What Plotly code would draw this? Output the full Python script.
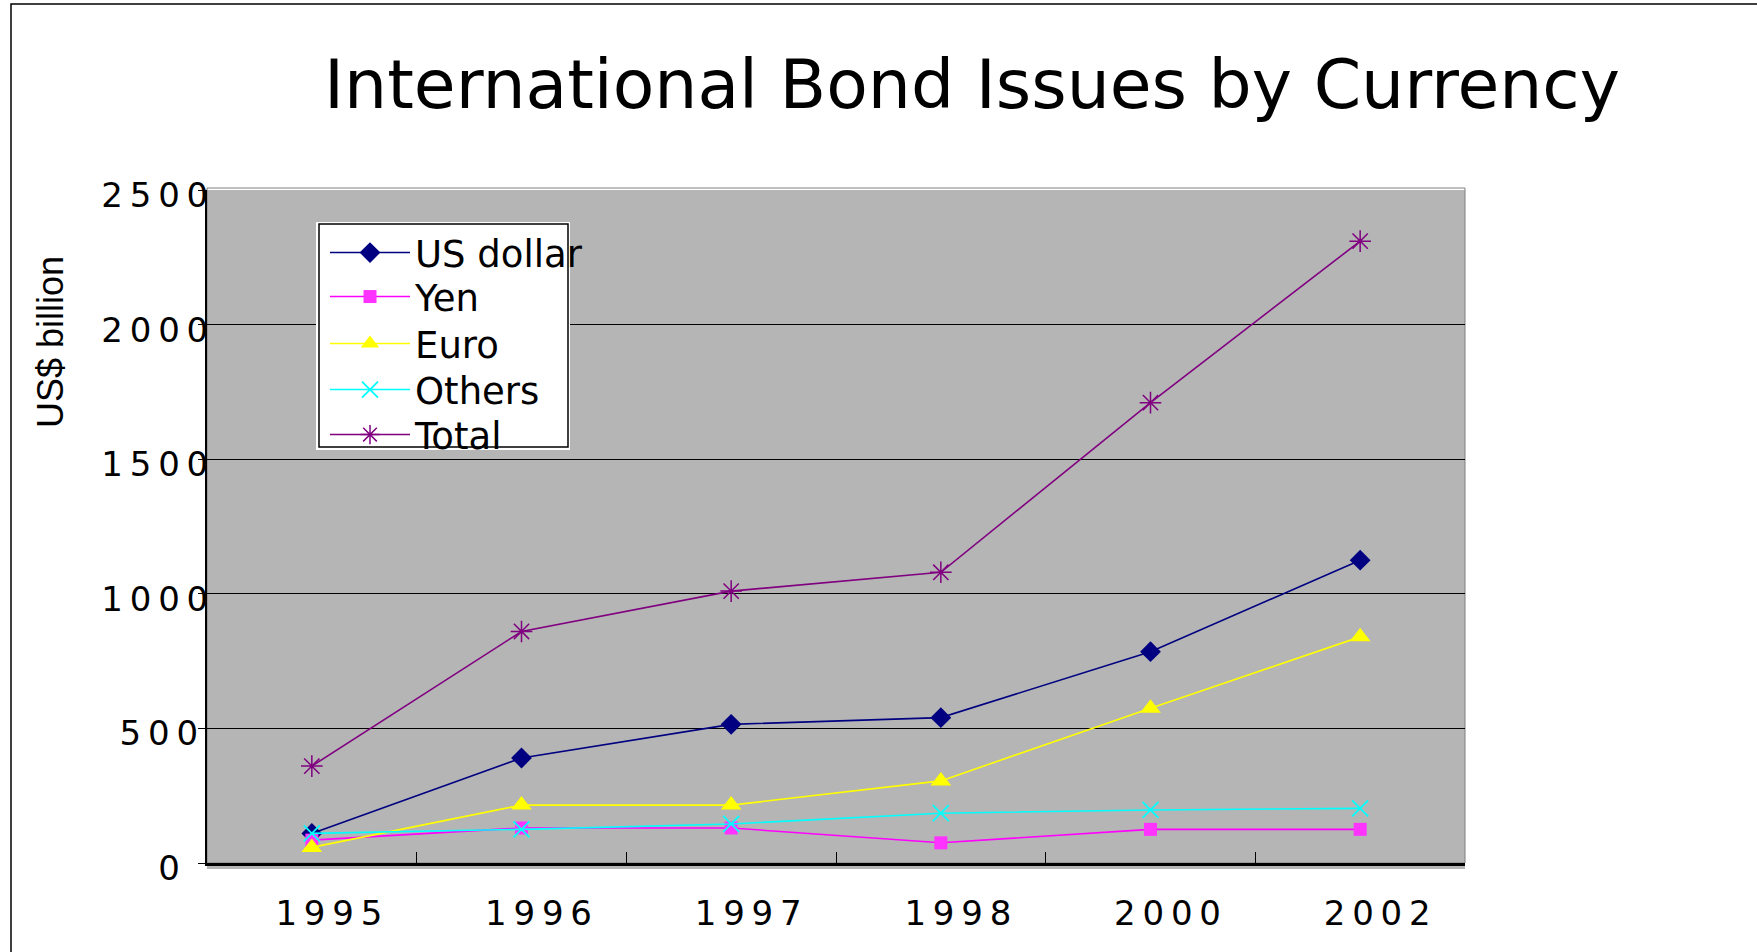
import plotly.graph_objects as go

# Data (US$ billion)
years = ["1995", "1996", "1997", "1998", "2000", "2002"]
us_dollar = [110, 390, 515, 540, 785, 1125]
yen = [85, 130, 130, 75, 125, 125]
euro = [58, 215, 215, 305, 575, 840]
others = [110, 125, 145, 185, 197, 203]
total = [360, 860, 1010, 1080, 1710, 2310]

y_ticks = [0, 500, 1000, 1500, 2000, 2500]

# Canvas / plot-area geometry in pixels
W, H = 1757, 952
L, R, T, B = 207, 1465, 190, 863
PW, PH = R - L, B - T


def px(x):
    return (x - L) / PW


def py(y):
    return (B - y) / PH


def spaced(s):
    return "\u2009".join(s)


# short value labels sit a little further from the axis
Y_PAD = {1: "\u2007\u2009", 3: "\u2009\u200a"}


def y_label(v):
    s = str(v)
    return spaced(s) + Y_PAD.get(len(s), "")


fig = go.Figure()

series = [
    ("US dollar", us_dollar, "#000080", dict(symbol="diamond", size=16, color="#000080")),
    ("Yen", yen, "#ff00ff", dict(symbol="square", size=13, color="#ff33ff")),
    ("Euro", euro, "#ffff00", dict(symbol="triangle-up", size=18, color="#ffff00")),
    ("Others", others, "#00ffff", dict(symbol="x-thin", size=16, color="#00ffff",
                                      line=dict(color="#00ffff", width=1.8))),
    ("Total", total, "#800080", dict(symbol="asterisk", size=18, color="#800080",
                                     line=dict(color="#800080", width=1.5))),
]

# one single-entry legend per series so each row sits at its own height
legend_rows = [253, 297, 344, 390, 435]

legend_layout = {}
for i, ((name, vals, col, mk), row) in enumerate(zip(series, legend_rows)):
    key = "legend" if i == 0 else f"legend{i + 1}"
    fig.add_trace(go.Scatter(
        x=years, y=vals, name=name, mode="lines+markers",
        line=dict(color=col, width=1.6), marker=mk, legend=key,
    ))
    legend_layout[key] = dict(
        x=px(325), y=py(row), xanchor="left", yanchor="middle",
        bgcolor="rgba(0,0,0,0)", borderwidth=0,
        font=dict(family="DejaVu Sans", size=37, color="black"),
        itemwidth=80, tracegroupgap=0,
    )

shapes = [
    # outer page frame
    dict(type="rect", xref="paper", yref="paper",
         x0=px(11), x1=px(1900), y0=py(1100), y1=py(4),
         line=dict(color="black", width=1.5), fillcolor="rgba(0,0,0,0)", layer="below"),
    # thin strip of plot-area fill below the category axis
    dict(type="rect", xref="paper", yref="paper",
         x0=0, x1=1, y0=py(869), y1=py(863),
         line=dict(width=0), fillcolor="#b5b5b5", layer="below"),
    # plot-area frame
    dict(type="rect", xref="paper", yref="paper",
         x0=0, x1=1, y0=0, y1=py(188),
         line=dict(color="#7f7f7f", width=1), fillcolor="rgba(0,0,0,0)", layer="below"),
    # legend box: white surround with black inner frame
    dict(type="rect", xref="paper", yref="paper",
         x0=px(316), x1=px(570), y0=py(450), y1=py(222),
         line=dict(width=0), fillcolor="white", layer="above"),
    dict(type="rect", xref="paper", yref="paper",
         x0=px(319), x1=px(568), y0=py(447), y1=py(224),
         line=dict(color="black", width=1.5), fillcolor="rgba(0,0,0,0)", layer="above"),
]

fig.update_layout(
    width=W, height=H,
    margin=dict(l=L, r=W - R, t=T, b=H - B, pad=0, autoexpand=False),
    paper_bgcolor="white",
    plot_bgcolor="#b5b5b5",
    showlegend=True,
    title=dict(
        text="International Bond Issues by Currency",
        x=972 / W, xanchor="center", xref="container",
        y=1 - 84 / H, yanchor="middle", yref="container",
        font=dict(family="DejaVu Sans", size=68, color="black"),
    ),
    shapes=shapes,
    annotations=[
        dict(text="US$ billion", xref="paper", yref="paper",
             x=px(50), y=py(342), xanchor="center", yanchor="middle",
             textangle=-90, showarrow=False,
             font=dict(family="Liberation Sans", size=36, color="black")),
    ],
    **legend_layout,
)

fig.update_xaxes(
    type="category", range=[-0.5, len(years) - 0.5], automargin=False,
    tickson="boundaries", ticks="inside", ticklen=11, tickwidth=1.2, tickcolor="black",
    tickvals=years, ticktext=[spaced(y) for y in years],
    showgrid=False, zeroline=False,
    showline=True, linecolor="black", linewidth=2.5,
    tickfont=dict(family="DejaVu Sans", size=34, color="black"),
    ticklabelstandoff=18, ticklabelshift=17,
)

fig.update_yaxes(
    range=[0, 2500], automargin=False,
    tickvals=y_ticks, ticktext=[y_label(v) for v in y_ticks],
    ticks="outside", ticklen=7, tickwidth=1.2, tickcolor="black",
    showgrid=True, gridcolor="black", gridwidth=1,
    zeroline=False, showline=True, linecolor="black", linewidth=2,
    tickfont=dict(family="DejaVu Sans", size=34, color="black"),
    ticklabelstandoff=-17, ticklabelshift=5,
)

fig.write_html("out.html")
